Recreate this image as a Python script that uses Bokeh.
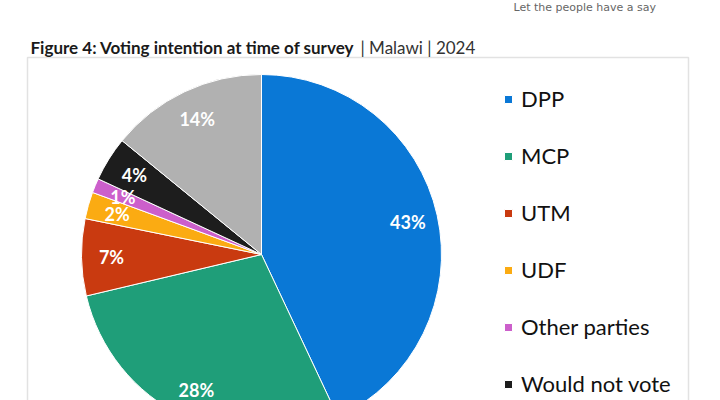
import numpy as np
from bokeh.plotting import figure
from bokeh.models import Range1d, ColumnDataSource, Legend, LegendItem
from bokeh.core.properties import value
from bokeh.embed import file_html
from bokeh.resources import INLINE

# ---- data ----
categories = ["DPP", "MCP", "UTM", "UDF", "Other parties", "Would not vote", "Don't know"]
shares = [43.0, 28.3, 6.9, 2.4, 1.3, 4.0, 14.1]
colors = ["#0a78d6", "#1f9e79", "#c93a10", "#fbab12", "#cc5fcb", "#1d1d1d", "#b1b1b1"]
legend_count = 6  # items visible in the picture

title_bold = "Figure 4: Voting intention at time of survey"
title_rest = "|  Malawi  |  2024"
tagline = "Let the people have a say"

W, H = 720, 400
def X(px):
    return px
def Y(py):
    return H - py

p = figure(width=W, height=H, output_backend="svg", toolbar_location=None,
           x_range=Range1d(0, W), y_range=Range1d(0, H),
           x_axis_type=None, y_axis_type=None, min_border=0)
p.xgrid.visible = False
p.ygrid.visible = False
p.outline_line_color = None
p.background_fill_color = "white"
p.border_fill_color = "white"

# frame box
p.quad(left=X(27), right=X(688), top=Y(57), bottom=-20,
       fill_color=None, line_color="#e2e2e2", line_width=1.5)

# pie
vals = np.array(shares, dtype=float)
frac = vals / vals.sum()
cum_end = np.cumsum(frac)
cum_start = cum_end - frac
start = np.pi / 2 - cum_end * 2 * np.pi
end = np.pi / 2 - cum_start * 2 * np.pi
mid = (start + end) / 2

cx, cy, R = X(261), Y(254), 180
src = ColumnDataSource(dict(cat=categories, start=start, end=end, color=colors))
wr = p.wedge(x=cx, y=cy, radius=R, start_angle="start", end_angle="end",
             direction="anticlock", fill_color="color", line_color="white",
             line_width=1, source=src)

lr = 150
lab = ColumnDataSource(dict(
    x=cx + lr * np.cos(mid),
    y=cy + lr * np.sin(mid),
    t=[f"{round(v)}%" for v in shares]))
p.text(x="x", y="y", text="t", source=lab, text_color="white",
       text_font=value("Lato"), text_font_style="bold", text_font_size="18px",
       text_align="center", text_baseline="middle")

# titles
p.text(x=[X(30)], y=[Y(47)], text=[title_bold], text_font=value("Lato"),
       text_font_style="bold", text_font_size="17px", text_color="#1a1a1a",
       text_baseline="alphabetic")
p.text(x=[X(360)], y=[Y(47)], text=[title_rest], text_font=value("Lato"),
       text_font_size="17px", text_color="#333333", text_baseline="alphabetic")
p.text(x=[X(513)], y=[Y(13)], text=[tagline], text_font=value("DejaVu Sans"),
       text_font_size="11px", text_color="#666666", text_baseline="bottom")

# legend
items = [LegendItem(label=categories[i], renderers=[wr], index=i) for i in range(legend_count)]
leg = Legend(items=items, location=(X(503), 3), orientation="vertical",
             glyph_width=10, glyph_height=10, label_standoff=8,
             label_text_font="Lato", label_text_font_size="22px",
             label_text_color="#111111", spacing=30, padding=0, margin=0,
             border_line_color=None, background_fill_alpha=0)
p.add_layout(leg)

open("out.html", "w").write(file_html(p, INLINE))
